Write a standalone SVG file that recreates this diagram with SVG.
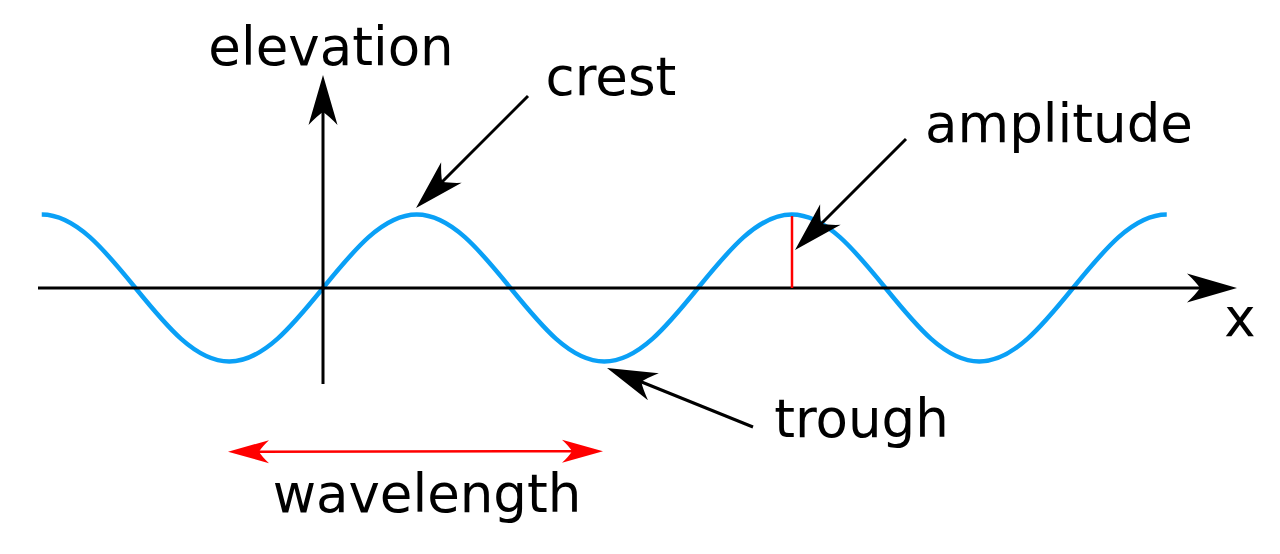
<svg xmlns="http://www.w3.org/2000/svg" width="1280" height="554" viewBox="0 0 1280 554">
  <style>
    .lbl { font-family: "DejaVu Sans", "Liberation Sans", sans-serif; font-size: 53px; fill: #000; text-anchor: middle; }
    .blk { stroke: #000; stroke-width: 3; fill: none; }
    .redl { stroke: #ff0000; stroke-width: 2.5; fill: none; }
  </style>
  <defs>
    <marker id="ah" markerUnits="userSpaceOnUse" markerWidth="52" markerHeight="32" viewBox="0 -16 52 32" refX="14" refY="0" orient="auto" overflow="visible">
      <path d="M50,0 L0,-14.5 Q9,-6 13,0 Q9,6 0,14.5 Z" fill="#000"/>
    </marker>
    <marker id="rh" markerUnits="userSpaceOnUse" markerWidth="44" markerHeight="26" viewBox="0 -13 44 26" refX="12" refY="0" orient="auto-start-reverse" overflow="visible">
      <path d="M41,0 L0,-11.5 Q7,-5 10,0 Q7,5 0,11.5 Z" fill="#ff0000"/>
    </marker>
  </defs>

  <g id="wave">
    <path d="M41.75,214.5 C75.68,214.5 104.92,250.35 135.5,288 C166.08,325.65 195.32,361.5 229.25,361.5 C263.18,361.5 292.42,325.65 323,288 C353.58,250.35 382.82,214.5 416.75,214.5 C450.68,214.5 479.92,250.35 510.5,288 C541.08,325.65 570.32,361.5 604.25,361.5 C638.18,361.5 667.42,325.65 698,288 C728.58,250.35 757.82,214.5 791.75,214.5 C825.68,214.5 854.92,250.35 885.5,288 C916.08,325.65 945.32,361.5 979.25,361.5 C1013.18,361.5 1042.42,325.65 1073,288 C1103.58,250.35 1132.82,214.5 1166.75,214.5" fill="none" stroke="#0aa0f6" stroke-width="4.5"/>
  </g>

  <g id="x-axis">
    <line class="blk" x1="38" y1="288" x2="1201" y2="288" marker-end="url(#ah)"/>
    <text class="lbl" x="1240" y="336">x</text>
  </g>

  <g id="elevation-axis">
    <line class="blk" x1="323" y1="384" x2="323" y2="111" marker-end="url(#ah)"/>
    <text class="lbl" x="331" y="65">elevation</text>
  </g>

  <g id="amplitude-bar">
    <line class="redl" x1="792" y1="216" x2="792" y2="288" stroke-width="2.2"/>
  </g>

  <g id="crest">
    <text class="lbl" x="611" y="95">crest</text>
  </g>
  <g id="amplitude">
    <text class="lbl" x="1059" y="142">amplitude</text>
  </g>
  <g id="trough">
    <text class="lbl" x="861.5" y="437">trough</text>
  </g>
  <g id="wavelength">
    <text class="lbl" x="427" y="512">wavelength</text>
  </g>

  <g id="connectors">
    <line class="blk" x1="528" y1="96" x2="441.5" y2="182.5" marker-end="url(#ah)"/>
    <line class="blk" x1="906" y1="139" x2="820.5" y2="224.5" marker-end="url(#ah)"/>
    <line class="blk" x1="753" y1="427" x2="640.4" y2="381.5" marker-end="url(#ah)"/>
    <line class="redl" x1="257" y1="451.7" x2="574" y2="451.2" marker-start="url(#rh)" marker-end="url(#rh)"/>
  </g>
</svg>
